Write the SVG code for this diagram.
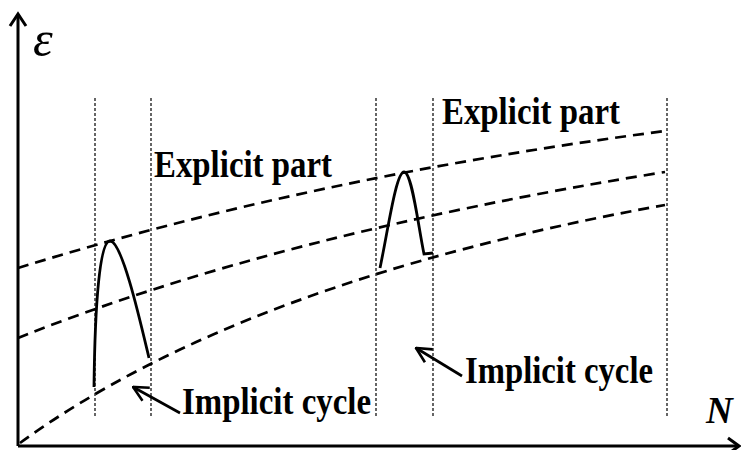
<svg xmlns="http://www.w3.org/2000/svg" width="741" height="450" viewBox="0 0 741 450">
<style>
.axis{stroke:#000;stroke-width:3;fill:none}
.guide{stroke:#000;stroke-width:1.2;stroke-dasharray:3 2;fill:none}
.dash{stroke:#000;stroke-width:2.7;stroke-dasharray:11 7;fill:none}
.solid{stroke:#000;stroke-width:2.8;fill:none}
.ptr{stroke:#000;stroke-width:2.7;fill:none;marker-start:url(#open)}
.lbl{font-family:"Liberation Serif","Times New Roman",serif;font-weight:bold;font-size:37px;fill:#000}
</style>
<defs>
<marker id="open" viewBox="0 0 18 18" refX="1" refY="9" markerWidth="18" markerHeight="18" markerUnits="userSpaceOnUse" orient="auto">
<polyline points="16,1.5 1,9 16,16.5" fill="none" stroke="#000" stroke-width="2.6"/>
</marker>
</defs>
<rect width="741" height="450" fill="#fff"/>
<g id="axes">
<path class="axis" d="M18,446 V14"/>
<path class="axis" d="M10,26 L18,14 L26,26"/>
<path class="axis" d="M18,446 H739"/>
<path class="axis" d="M728,438 L739,446 L728,454"/>
<text x="33" y="56" font-family="Liberation Serif,serif" font-style="italic" font-size="50">ε</text>
<text x="706" y="423" font-family="Liberation Serif,serif" font-style="italic" font-weight="bold" font-size="37">N</text>
</g>
<g id="guides">
<line class="guide" x1="95" y1="98" x2="95" y2="418"/>
<line class="guide" x1="151" y1="98" x2="151" y2="418"/>
<line class="guide" x1="376" y1="98" x2="376" y2="418"/>
<line class="guide" x1="433" y1="98" x2="433" y2="418"/>
<line class="guide" x1="667" y1="98" x2="667" y2="418"/>
</g>
<g id="explicit-curves">
<path class="dash" d="M18,268 Q312,177 665,131"/>
<path class="dash" d="M18,338 Q278,234 665,172"/>
<path class="dash" d="M20,443 Q243,281 665,205"/>
</g>
<g id="implicit-cycle-1">
<path class="solid" d="M94,387 C95,300 100,241 110,241 C122,241 140,320 149,358"/>
</g>
<g id="implicit-cycle-2">
<path class="solid" d="M380,268 C388,230 396,172 404,172 C412,172 418,225 424,254 L433,253"/>
</g>
<g id="connectors">
<line class="ptr" x1="133" y1="387" x2="180" y2="413"/>
<line class="ptr" x1="416" y1="348" x2="462" y2="376"/>
</g>
<g id="label-explicit-left"><text class="lbl" x="154" y="177" textLength="178" lengthAdjust="spacingAndGlyphs">Explicit part</text></g>
<g id="label-explicit-right"><text class="lbl" x="442" y="124" textLength="178" lengthAdjust="spacingAndGlyphs">Explicit part</text></g>
<g id="label-implicit-left"><text class="lbl" x="182" y="414" textLength="189" lengthAdjust="spacingAndGlyphs">Implicit cycle</text></g>
<g id="label-implicit-right"><text class="lbl" x="465" y="383" textLength="188" lengthAdjust="spacingAndGlyphs">Implicit cycle</text></g>
</svg>
